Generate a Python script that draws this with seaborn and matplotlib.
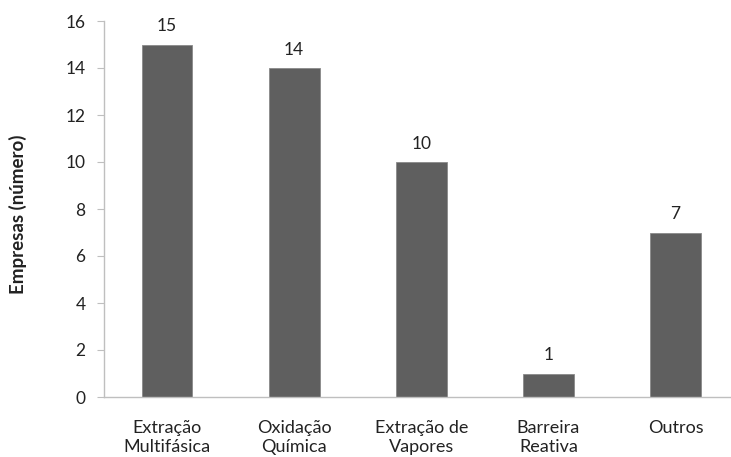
import matplotlib
matplotlib.use("Agg")
import matplotlib.pyplot as plt
import seaborn as sns
import pandas as pd
import numpy as np

categorias = ["Extração\nMultifásica", "Oxidação\nQuímica", "Extração de\nVapores", "Barreira\nReativa", "Outros"]
empresas = [15, 14, 10, 1, 7]
yticks = [0, 2, 4, 6, 8, 10, 12, 14, 16]

sns.set_theme(style="white")
plt.rcParams["font.family"] = ["Lato", "DejaVu Sans"]

df = pd.DataFrame({"categoria": categorias, "empresas": empresas})

fig = plt.figure(figsize=(7.31, 4.57), dpi=100)
ax = fig.add_axes([103.5 / 731, 60 / 457, (739 - 103.5) / 731, 376 / 457])

sns.barplot(data=df, x="categoria", y="empresas", color="#5f5f5f", width=0.4,
            saturation=1, edgecolor="#8a8a8a", linewidth=0.6, ax=ax)

for i, v in enumerate(empresas):
    ax.annotate(str(v), xy=(i, v), xytext=(0, 9.5), textcoords="offset points",
                ha="center", va="baseline", fontsize=12.5, color="#222222")

ax.set_ylim(0, 16)
ax.set_xlim(-0.5, len(categorias) - 0.5)
ax.set_yticks(yticks)
ax.set_yticklabels([str(t) for t in yticks], fontsize=12.5, color="#222222")
ax.set_xticks(range(len(categorias)))
ax.set_xticklabels(categorias, fontsize=13, color="#222222", linespacing=1.2)
ax.set_xticks(np.arange(-0.5, len(categorias)), minor=True)
ax.tick_params(axis="x", which="major", length=0, pad=16.5)
ax.tick_params(axis="x", which="minor", length=5, width=0.8, color="#bfbfbf", direction="out")
ax.tick_params(axis="y", length=5, width=0.8, color="#bfbfbf", direction="out", pad=8, left=True)

ax.set_xlabel("")
ax.set_ylabel("Empresas (número)", fontsize=13.5, fontweight="bold", color="#222222")
ax.yaxis.set_label_coords((27 - 103.5) / 635.5, 0.487)

for side in ["top", "right"]:
    ax.spines[side].set_visible(False)
for side in ["left", "bottom"]:
    ax.spines[side].set_color("#bfbfbf")
    ax.spines[side].set_linewidth(1.0)

fig.savefig("out.png", dpi=100)
